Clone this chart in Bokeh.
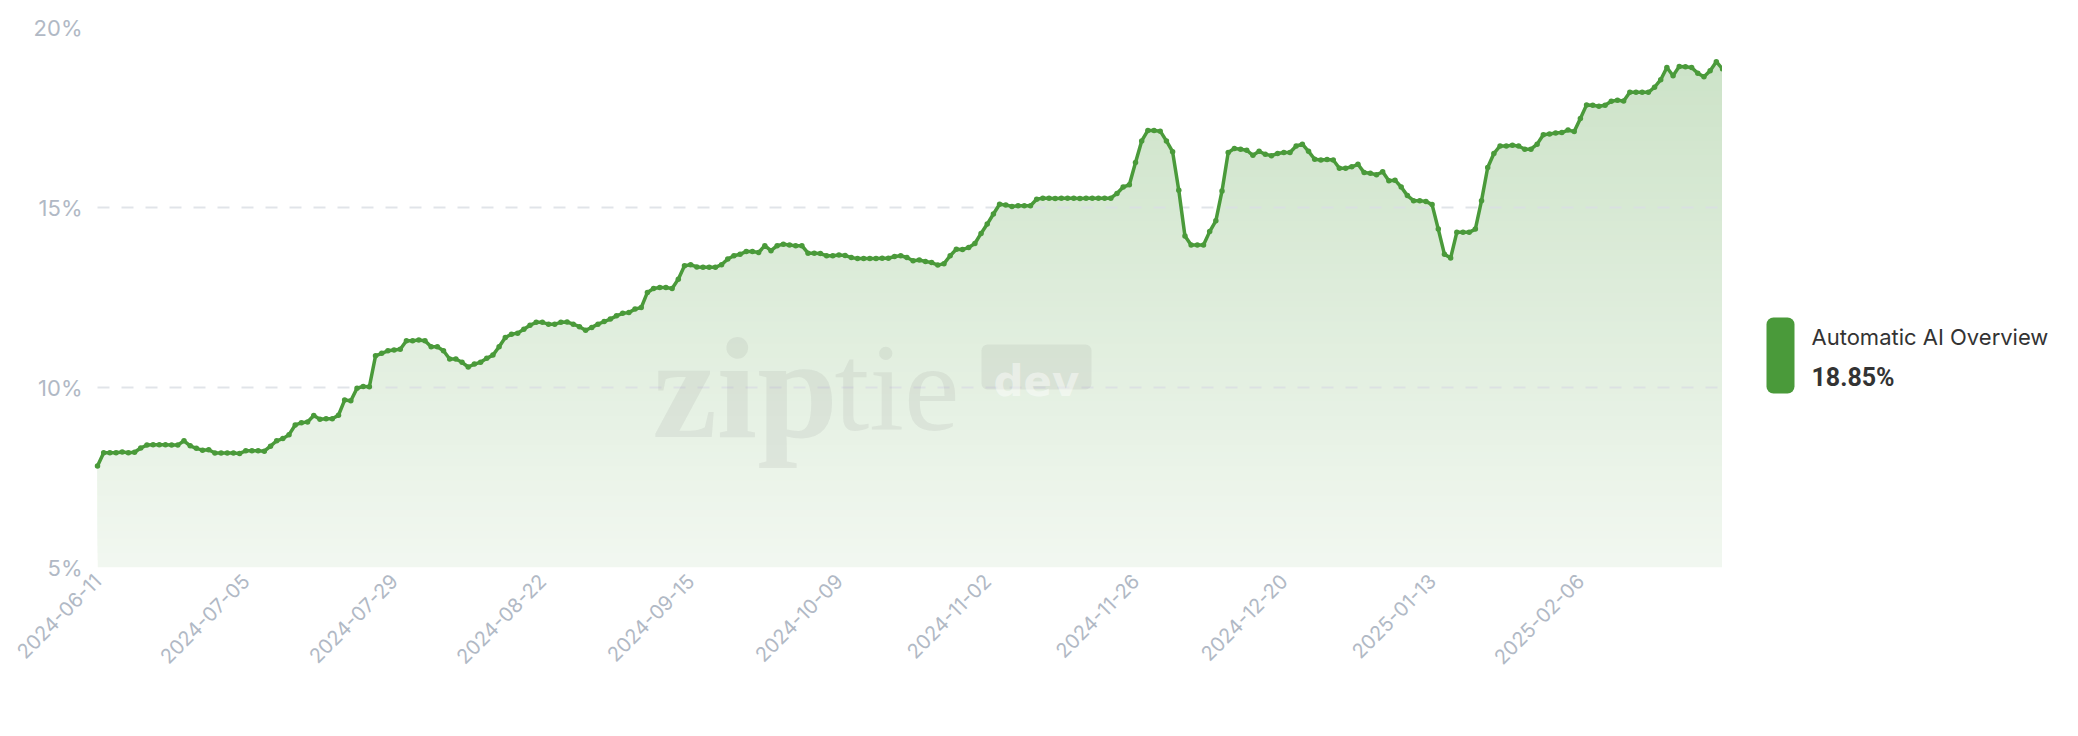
import math
import numpy as np
import pandas as pd
from bokeh.plotting import figure
from bokeh.layouts import row
from bokeh.models import Range1d, FixedTicker, Label, BoxAnnotation
from bokeh.core.properties import value
from bokeh.embed import file_html
from bokeh.resources import INLINE

# ---------------- data ----------------
start_date = "2024-06-11"
series_name = "Automatic AI Overview"
latest_label = "18.85%"

values = [
    7.82, 8.19, 8.19, 8.19, 8.21, 8.19, 8.20, 8.32, 8.40, 8.41,
    8.41, 8.41, 8.40, 8.40, 8.52, 8.38, 8.31, 8.26, 8.27, 8.18,
    8.18, 8.18, 8.18, 8.17, 8.24, 8.24, 8.24, 8.23, 8.37, 8.52,
    8.58, 8.69, 8.96, 9.02, 9.04, 9.22, 9.12, 9.13, 9.13, 9.23,
    9.65, 9.63, 9.98, 10.03, 10.02, 10.88, 10.95, 11.02, 11.04, 11.06,
    11.30, 11.30, 11.32, 11.30, 11.13, 11.13, 11.02, 10.79, 10.79, 10.70,
    10.57, 10.65, 10.70, 10.81, 10.90, 11.13, 11.39, 11.48, 11.51, 11.62,
    11.73, 11.81, 11.81, 11.76, 11.76, 11.81, 11.82, 11.76, 11.69, 11.59,
    11.67, 11.76, 11.83, 11.90, 11.99, 12.06, 12.08, 12.18, 12.22, 12.64,
    12.75, 12.78, 12.78, 12.75, 13.01, 13.38, 13.41, 13.35, 13.34, 13.34,
    13.34, 13.41, 13.57, 13.66, 13.70, 13.78, 13.78, 13.75, 13.94, 13.80,
    13.94, 13.98, 13.96, 13.94, 13.94, 13.73, 13.73, 13.72, 13.66, 13.66,
    13.68, 13.67, 13.61, 13.58, 13.58, 13.58, 13.58, 13.59, 13.59, 13.64,
    13.66, 13.61, 13.52, 13.54, 13.50, 13.47, 13.40, 13.44, 13.66, 13.84,
    13.83, 13.89, 14.00, 14.28, 14.54, 14.82, 15.09, 15.07, 15.03, 15.05,
    15.05, 15.05, 15.23, 15.26, 15.26, 15.25, 15.26, 15.26, 15.26, 15.25,
    15.26, 15.26, 15.26, 15.26, 15.26, 15.39, 15.57, 15.63, 16.25, 16.85,
    17.14, 17.14, 17.12, 16.85, 16.55, 15.48, 14.21, 13.96, 13.96, 13.96,
    14.33, 14.63, 15.46, 16.53, 16.64, 16.62, 16.59, 16.45, 16.56, 16.48,
    16.44, 16.50, 16.53, 16.53, 16.71, 16.76, 16.56, 16.34, 16.32, 16.33,
    16.32, 16.09, 16.09, 16.13, 16.20, 15.97, 15.95, 15.91, 15.99, 15.74,
    15.76, 15.57, 15.33, 15.19, 15.19, 15.17, 15.08, 14.40, 13.70, 13.60,
    14.31, 14.31, 14.31, 14.40, 15.19, 16.11, 16.50, 16.71, 16.71, 16.73,
    16.71, 16.62, 16.62, 16.76, 17.02, 17.04, 17.07, 17.08, 17.15, 17.11,
    17.47, 17.85, 17.84, 17.81, 17.84, 17.95, 17.98, 17.96, 18.20, 18.20,
    18.20, 18.20, 18.34, 18.55, 18.89, 18.66, 18.92, 18.91, 18.89, 18.73,
    18.63, 18.80, 19.05, 18.85,
]

x_tick_labels = [
    "2024-06-11", "2024-07-05", "2024-07-29", "2024-08-22", "2024-09-15",
    "2024-10-09", "2024-11-02", "2024-11-26", "2024-12-20", "2025-01-13",
    "2025-02-06",
]
y_ticks = [5, 10, 15, 20]
y_tick_labels = ["5%", "10%", "15%", "20%"]

# ---------------- build ----------------
GREEN = "#4a9a3a"
GREEN_RGB = (74, 154, 58)
LABEL_GRAY = "#b1b9c5"
FONT = "Inter"

TOP, FRAME_H, BOTTOM = 27, 540, 163

dates = pd.date_range(start_date, periods=len(values)).strftime("%Y-%m-%d").tolist()
x = np.arange(len(values))
y = np.array(values, dtype=float)

p = figure(
    frame_width=1625, frame_height=FRAME_H,
    min_border_left=97, min_border_right=0,
    min_border_top=TOP, min_border_bottom=BOTTOM,
    x_range=Range1d(0, len(values) - 1), y_range=Range1d(y_ticks[0], y_ticks[-1]),
    output_backend="svg", toolbar_location=None,
    background_fill_color="white", border_fill_color="white",
)
p.outline_line_color = None


def mix(a):
    c = [round(255 * (1 - a) + g * a) for g in GREEN_RGB]
    return "#%02x%02x%02x" % tuple(c)


# gradient area: opaque stacked layers, each from its level up to the line
n_bands = 70
ymin = y_ticks[0]
ymax = y.max()
levels = np.linspace(ymin, ymax, n_bands + 1)[:-1]
a_bot, a_top = 0.075, 0.28
for lo in levels:
    A = a_bot + (a_top - a_bot) * (lo - ymin) / (ymax - ymin)
    p.varea(x=x, y1=np.minimum(y, lo), y2=y, fill_color=mix(A))

p.line(x, y, line_color=GREEN, line_width=3.5, line_join="round", level="annotation")
p.scatter(x, y, size=5.5, fill_color=GREEN, line_color=None, level="annotation")

# axes
tick_pos = [dates.index(d) for d in x_tick_labels]
p.xaxis.ticker = FixedTicker(ticks=tick_pos)
p.xaxis.major_label_overrides = {t: d for t, d in zip(tick_pos, x_tick_labels)}
p.xaxis.major_label_orientation = math.pi / 4
p.yaxis.ticker = FixedTicker(ticks=y_ticks)
p.yaxis.major_label_overrides = {t: l for t, l in zip(y_ticks, y_tick_labels)}

for ax in (p.xaxis, p.yaxis):
    ax.axis_line_color = None
    ax.major_tick_line_color = None
    ax.minor_tick_line_color = None
    ax.major_tick_out = 0
    ax.major_tick_in = 0
    ax.major_label_text_color = LABEL_GRAY
    ax.major_label_text_font = FONT
p.yaxis.major_label_text_font_size = "22px"
p.xaxis.major_label_text_font_size = "20px"
p.yaxis.major_label_standoff = 15
p.xaxis.major_label_standoff = 10

p.xgrid.visible = False
p.ygrid.level = "guide"
p.ygrid.grid_line_color = "#d9dde3"
p.ygrid.grid_line_alpha = 0.8
p.ygrid.grid_line_dash = "12 12"
p.ygrid.grid_line_width = 2

# watermark
wm = dict(x_units="canvas", y_units="canvas", text_baseline="alphabetic",
          text_color="#808080", text_alpha=0.12)
p.add_layout(Label(x=652, y=387, text="zip", text_font="Liberation Serif",
                   text_font_style="bold", text_font_size="145px", **wm))
p.add_layout(Label(x=834, y=387, text="tie", text_font="Liberation Serif",
                   text_font_size="125px", **wm))
p.add_layout(BoxAnnotation(left=981, right=1091, top=344, bottom=389,
                           left_units="canvas", right_units="canvas",
                           top_units="canvas", bottom_units="canvas",
                           fill_color="#808080", fill_alpha=0.12, line_color=None,
                           border_radius=6))
p.add_layout(Label(x=1036, y=381, x_units="canvas", y_units="canvas", text="dev",
                   text_align="center", text_baseline="alphabetic",
                   text_font="DejaVu Sans", text_font_style="bold", text_font_size="42px",
                   text_color="white", text_alpha=0.45))

# legend panel: separate figure to the right whose frame is aligned with the
# main frame; its ranges are set so that units equal page pixels (y downward)
LW = 340
lg = figure(frame_width=LW, frame_height=FRAME_H,
            x_range=Range1d(0, LW), y_range=Range1d(TOP + FRAME_H, TOP),
            output_backend="svg", toolbar_location=None,
            x_axis_location=None, y_axis_location=None,
            min_border_left=0, min_border_right=0,
            min_border_top=TOP, min_border_bottom=BOTTOM,
            background_fill_color="white", border_fill_color="white")
lg.outline_line_color = None
lg.grid.visible = False
lg.quad(left=[44], right=[72], top=[317], bottom=[393], fill_color=GREEN,
        line_color=None, border_radius=7)
lg.text(x=[89], y=[336], text=[series_name], text_baseline="alphabetic",
        text_font=value(FONT), text_font_size="22px", text_color="#333333")
lg.text(x=[89], y=[377], text=[latest_label], text_baseline="alphabetic",
        text_font=value("Roboto"), text_font_style="bold", text_font_size="25px",
        text_color="#333333")

layout = row(p, lg)
open("out.html", "w").write(file_html(layout, INLINE))
